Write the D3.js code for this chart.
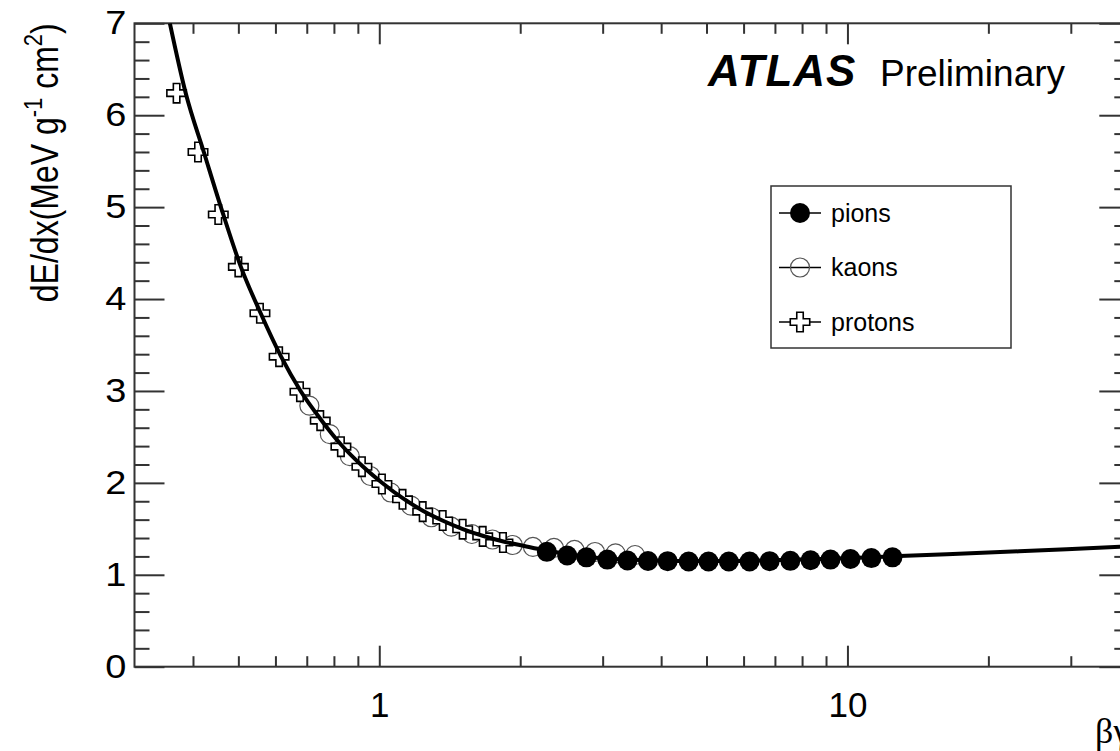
<!DOCTYPE html>
<html>
<head>
<meta charset="utf-8">
<script src="https://cdn.jsdelivr.net/npm/d3@7"></script>
<style>
  body { margin: 0; background: #fff; }
  text { font-family: "Liberation Sans", Arial, sans-serif; fill: #000; }
</style>
</head>
<body>
<script>

// --- data (beta*gamma, dE/dx in MeV g^-1 cm^2) ---
var pionBG   = [2.28, 2.52, 2.77, 3.07, 3.39, 3.75, 4.13, 4.58, 5.05, 5.58, 6.18, 6.82, 7.55, 8.34, 9.2, 10.15, 11.25, 12.48];
var pionDEDX = [1.25, 1.21, 1.19, 1.165, 1.155, 1.15, 1.148, 1.145, 1.145, 1.145, 1.145, 1.148, 1.152, 1.158, 1.165, 1.172, 1.182, 1.19];

var kaonBG   = [0.709, 0.784, 0.865, 0.957, 1.058, 1.169, 1.292, 1.425, 1.577, 1.745, 1.928, 2.129, 2.361, 2.612, 2.889, 3.196, 3.518];
var kaonDEDX = [2.84, 2.53, 2.29, 2.075, 1.895, 1.752, 1.626, 1.523, 1.444, 1.384, 1.324, 1.303, 1.292, 1.27, 1.248, 1.234, 1.215];

var protonBG   = [0.369, 0.410, 0.453, 0.500, 0.556, 0.611, 0.677, 0.748, 0.828, 0.918, 1.013, 1.121, 1.238, 1.366, 1.507, 1.663, 1.837];
var protonDEDX = [6.24, 5.60, 4.92, 4.35, 3.845, 3.373, 2.992, 2.677, 2.394, 2.176, 1.988, 1.821, 1.687, 1.591, 1.496, 1.418, 1.351];

// fitted curve, sampled by eye along the drawn line
var curveBG   = [0.357, 0.386, 0.422, 0.464, 0.506, 0.558, 0.617, 0.678, 0.750, 0.830, 0.920, 1.015, 1.12, 1.236, 1.364, 1.508, 1.669, 1.841, 2.042, 2.275, 2.511, 2.771, 3.058, 3.391, 3.741, 4.579, 5.576, 6.822, 8.307, 10.17, 12.5, 20, 29.4, 40];
var curveDEDX = [7.0, 6.239, 5.597, 4.923, 4.353, 3.845, 3.373, 3.005, 2.69, 2.412, 2.184, 1.999, 1.836, 1.70, 1.591, 1.498, 1.422, 1.362, 1.313, 1.264, 1.226, 1.199, 1.177, 1.166, 1.158, 1.15, 1.15, 1.158, 1.169, 1.183, 1.201, 1.243, 1.277, 1.31];

var xTickValues = [1, 10];
var xTickLabels = ["1", "10"];
var xMinorValues = [0.4, 0.5, 0.6, 0.7, 0.8, 0.9, 2, 3, 4, 5, 6, 7, 8, 9, 20, 30];
var yTickValues = [0, 1, 2, 3, 4, 5, 6, 7];
var yTickLabels = ["0", "1", "2", "3", "4", "5", "6", "7"];

var legendNames = ["pions", "kaons", "protons"];

(function () {

	// --- layout ---
	var W = 1120, H = 751
	var pl = 134.5, pr = 1129.3, pt = 23.3, pb = 666.7

	var svg = d3.select("body").append("svg")
		.attr("width", W)
		.attr("height", H)

	var x = d3.scaleLog().domain([0.3, 40]).range([pl, pr])
	var y = d3.scaleLinear().domain([0, 7]).range([pb, pt])

	var yMinor = d3.range(0, 7.001, 0.2).filter(function(v) { return Math.abs(v - Math.round(v)) > 0.01 })

	function styleAxis(g) {
		g.select(".domain").remove()
		g.selectAll(".tick line").attr("stroke", "#333").attr("stroke-width", 2)
	}

	// y axis, left (with labels)
	svg.append("g")
		.attr("transform", "translate(" + pl + ",0)")
		.call(d3.axisLeft(y).tickValues(yTickValues).tickSizeInner(-30).tickSizeOuter(0).tickPadding(7)
			.tickFormat(function(d, i) { return yTickLabels[i] }))
		.call(styleAxis)
		.selectAll("text")
		.attr("font-size", 33).attr("font-family", "Liberation Sans, Arial, sans-serif")
		.attr("transform", "scale(1.15,1)")

	svg.append("g")
		.attr("transform", "translate(" + pl + ",0)")
		.call(d3.axisLeft(y).tickValues(yMinor).tickSizeInner(-15).tickSizeOuter(0).tickFormat(""))
		.call(styleAxis)

	// y axis, right (ticks only)
	svg.append("g")
		.attr("transform", "translate(" + pr + ",0)")
		.call(d3.axisRight(y).tickValues(yTickValues).tickSizeInner(-30).tickSizeOuter(0).tickFormat(""))
		.call(styleAxis)
	svg.append("g")
		.attr("transform", "translate(" + pr + ",0)")
		.call(d3.axisRight(y).tickValues(yMinor).tickSizeInner(-15).tickSizeOuter(0).tickFormat(""))
		.call(styleAxis)

	// x axis, bottom (with labels)
	svg.append("g")
		.attr("transform", "translate(0," + pb + ")")
		.call(d3.axisBottom(x).tickValues(xTickValues).tickSizeInner(-21).tickSizeOuter(0).tickPadding(25)
			.tickFormat(function(d, i) { return xTickLabels[i] }))
		.call(styleAxis)
		.selectAll("text").attr("font-size", 35).attr("font-family", "Liberation Sans, Arial, sans-serif")

	svg.append("g")
		.attr("transform", "translate(0," + pb + ")")
		.call(d3.axisBottom(x).tickValues(xMinorValues).tickSizeInner(-10.5).tickSizeOuter(0).tickFormat(""))
		.call(styleAxis)

	// x axis, top (ticks only)
	svg.append("g")
		.attr("transform", "translate(0," + pt + ")")
		.call(d3.axisTop(x).tickValues(xTickValues).tickSizeInner(-21).tickSizeOuter(0).tickFormat(""))
		.call(styleAxis)
	svg.append("g")
		.attr("transform", "translate(0," + pt + ")")
		.call(d3.axisTop(x).tickValues(xMinorValues).tickSizeInner(-10.5).tickSizeOuter(0).tickFormat(""))
		.call(styleAxis)

	// frame
	svg.append("rect")
		.attr("x", pl).attr("y", pt)
		.attr("width", pr - pl).attr("height", pb - pt)
		.attr("fill", "none").attr("stroke", "#333").attr("stroke-width", 2)

	svg.append("clipPath").attr("id", "plot")
		.append("rect").attr("x", pl).attr("y", pt).attr("width", pr - pl).attr("height", pb - pt)

	var plot = svg.append("g").attr("clip-path", "url(#plot)")

	function zip(a, b) { return a.map(function(v, i) { return [v, b[i]] }) }

	var crossPath = d3.symbol().type(d3.symbolCross).size(210)

	// kaons: open circles
	plot.selectAll(".kaon")
		.data(zip(kaonBG, kaonDEDX))
		.enter().append("circle")
		.attr("class", "kaon")
		.attr("cx", function(d) { return x(d[0]) })
		.attr("cy", function(d) { return y(d[1]) })
		.attr("r", 9.5)
		.attr("fill", "none")
		.attr("stroke", "#555")
		.attr("stroke-width", 1.2)

	// protons: open crosses
	plot.selectAll(".proton")
		.data(zip(protonBG, protonDEDX))
		.enter().append("path")
		.attr("class", "proton")
		.attr("d", crossPath)
		.attr("transform", function(d) { return "translate(" + x(d[0]) + "," + y(d[1]) + ")" })
		.attr("fill", "#fff")
		.attr("stroke", "#000")
		.attr("stroke-width", 1.6)

	// curve
	var line = d3.line()
		.x(function(d) { return x(d[0]) })
		.y(function(d) { return y(d[1]) })
		.curve(d3.curveMonotoneX)

	plot.append("path")
		.datum(zip(curveBG, curveDEDX))
		.attr("d", line)
		.attr("fill", "none")
		.attr("stroke", "#000")
		.attr("stroke-width", 4)

	// pions: filled circles
	plot.selectAll(".pion")
		.data(zip(pionBG, pionDEDX))
		.enter().append("circle")
		.attr("class", "pion")
		.attr("cx", function(d) { return x(d[0]) })
		.attr("cy", function(d) { return y(d[1]) })
		.attr("r", 10)
		.attr("fill", "#000")

	// ATLAS label
	svg.append("text")
		.attr("x", 708).attr("y", 86)
		.attr("font-size", 44).attr("font-weight", "bold").attr("font-style", "italic")
		.attr("letter-spacing", 1)
		.text("ATLAS")
	svg.append("text")
		.attr("x", 880).attr("y", 86)
		.attr("font-size", 37)
		.text("Preliminary")

	// legend
	var lg = svg.append("g")
	lg.append("rect")
		.attr("x", 771).attr("y", 186).attr("width", 240).attr("height", 162)
		.attr("fill", "#fff").attr("stroke", "#333").attr("stroke-width", 1.5)

	var entry = lg.selectAll(".entry")
		.data(legendNames)
		.enter().append("g")
		.attr("class", "entry")
		.attr("transform", function(d, i) { return "translate(800," + (213 + i * 54.5) + ")" })

	entry.append("line")
		.attr("x1", -21).attr("x2", 21)
		.attr("stroke", "#000").attr("stroke-width", 1.5)

	entry.each(function(d, i) {
		var e = d3.select(this)
		if (i == 0) e.append("circle").attr("r", 10).attr("fill", "#000")
		if (i == 1) e.append("circle").attr("r", 9.5).attr("fill", "none").attr("stroke", "#555").attr("stroke-width", 1.2)
		if (i == 2) e.append("path").attr("d", crossPath).attr("fill", "#fff").attr("stroke", "#000").attr("stroke-width", 1.6)
	})

	entry.append("text")
		.attr("x", 31).attr("dy", "0.35em")
		.attr("font-size", 25)
		.text(function(d) { return d })

	// axis titles
	var yt = svg.append("text")
		.attr("transform", "translate(58," + pt + ") rotate(-90) scale(1,1.2)")
		.attr("text-anchor", "end")
		.attr("font-size", 32)
	yt.append("tspan").text("dE/dx(MeV g")
	yt.append("tspan").attr("font-size", 22).attr("dy", -13).text("-1")
	yt.append("tspan").attr("dy", 13).text(" cm")
	yt.append("tspan").attr("font-size", 22).attr("dy", -13).text("2")
	yt.append("tspan").attr("dy", 13).text(")")

	svg.append("text")
		.attr("x", pr).attr("y", 743)
		.attr("text-anchor", "end")
		.attr("font-size", 36)
		.style("font-family", "'Liberation Serif', 'Times New Roman', serif")
		.text("βγ")

})()

</script>
</body>
</html>
